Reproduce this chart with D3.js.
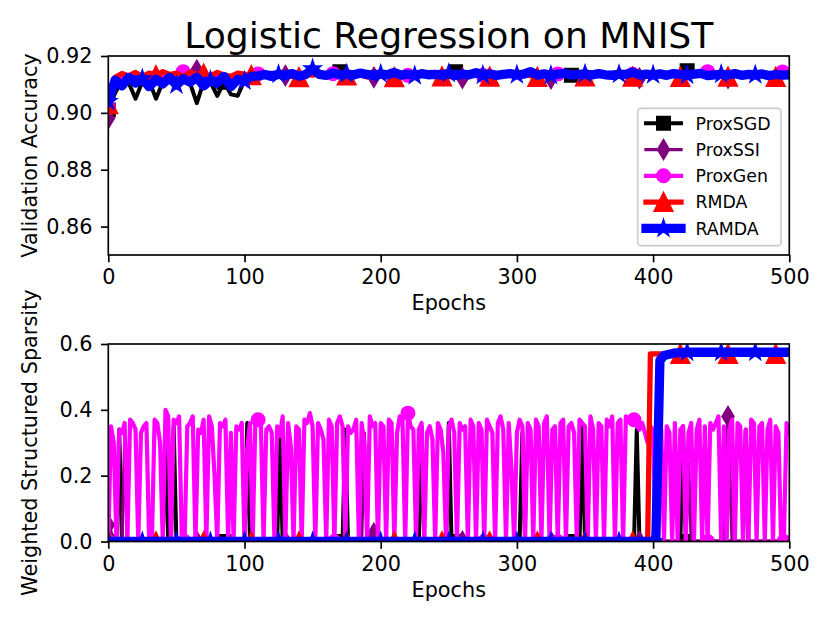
<!DOCTYPE html>
<html><head><meta charset="utf-8">
<script src="https://cdn.jsdelivr.net/npm/d3@7"></script>
<style>body{margin:0;background:#fff}svg{display:block}</style>
</head><body><svg id="c" width="830" height="623"></svg>
<script>
// ---------------- DATA ----------------
const epochTicks = [0, 100, 200, 300, 400, 500];
const accTicks = [0.86, 0.88, 0.90, 0.92];
const sparTicks = [0.0, 0.2, 0.4, 0.6];
const methods = ["ProxSGD", "ProxSSI", "ProxGen", "RMDA", "RAMDA"];

// validation accuracy, one value every 5 epochs (0..500)
const accStep = 5;
const accProxSGD = [
.901,.907,.9115,.9105,.905,.911,.9112,.905,.9108,.9115,
.911,.9118,.9105,.9034,.911,.9108,.906,.9108,.9065,.906,
.9115,.9128,.9133,.913,.9136,.9132,.9135,.9131,.9137,.9133,
.9135,.9138,.9132,.9136,.9145,.9134,.9137,.9133,.9135,.9131,
.9136,.9134,.9137,.9132,.9135,.9138,.9133,.9136,.9134,.9137,
.9132,.9145,.9135,.9133,.9137,.9134,.9136,.9132,.9138,.9135,
.9134,.9136,.9132,.9137,.9133,.9135,.9138,.9134,.9132,.9136,
.9135,.9133,.9137,.9131,.9136,.9134,.9138,.9132,.9135,.9133,
.9137,.9134,.9132,.9136,.9135,.9148,.9133,.9137,.9134,.9136,
.9132,.9135,.9137,.9133,.9136,.9134,.9132,.9137,.9135,.9133,
.9136];
const accProxSSI = [
.898,.911,.9122,.9115,.9128,.9118,.9125,.9112,.913,.912,
.9126,.9118,.913,.915,.9125,.912,.9128,.9118,.9122,.9126,
.9125,.913,.9135,.9132,.9136,.9133,.9131,.9136,.9134,.9137,
.9133,.9136,.9134,.9132,.9137,.9135,.9133,.9136,.9134,.9125,
.9136,.9133,.9137,.9134,.9132,.9136,.9135,.9133,.9137,.9134,
.9136,.9132,.9122,.9135,.9137,.9133,.9136,.9134,.9132,.9137,
.9135,.9133,.9136,.9132,.9137,.9121,.9134,.9135,.9133,.9136,
.9134,.9137,.9132,.9136,.9135,.9133,.9137,.9134,.9122,.9136,
.9133,.9136,.9134,.9137,.9132,.9135,.9133,.9136,.9134,.9137,
.9135,.9122,.9136,.9133,.9137,.9134,.9132,.9136,.9135,.9133,
.9134];
const accProxGen = [
.902,.9115,.9125,.9118,.913,.912,.9128,.9115,.9132,.912,
.9135,.9145,.913,.9122,.9128,.9118,.9132,.9125,.912,.913,
.9128,.9133,.9137,.9132,.9135,.9138,.913,.9136,.9133,.9138,
.9134,.9137,.9131,.9138,.9135,.9133,.9137,.9132,.9136,.9134,
.9138,.9133,.9135,.9137,.9132,.9136,.9134,.9138,.9131,.9135,
.9137,.9133,.9136,.9134,.9138,.9132,.9135,.9137,.9133,.9136,
.9134,.9138,.9132,.9136,.9135,.9133,.9137,.9134,.9136,.9132,
.9136,.9134,.9137,.9133,.9135,.9138,.9132,.9136,.9134,.9137,
.9133,.9136,.9134,.9138,.9132,.9135,.9137,.9133,.9145,.9135,
.9137,.9134,.9136,.9132,.9138,.9135,.9133,.9137,.9134,.9144,
.9135];
const accRMDA = [
.903,.9125,.9138,.913,.9142,.9128,.914,.9132,.9145,.9135,
.914,.9128,.9143,.9135,.9138,.913,.9142,.9133,.9128,.914,
.9136,.9132,.913,.9138,.9128,.9136,.9134,.913,.9125,.9137,
.9133,.9138,.913,.9136,.9134,.9131,.9138,.9133,.9126,.9135,
.9132,.9137,.9125,.9134,.9138,.9131,.9135,.9133,.9138,.9128,
.9136,.9133,.9137,.9131,.9135,.9128,.9127,.9134,.9132,.9136,
.9133,.9137,.9131,.9126,.9135,.9133,.9138,.9132,.9134,.9137,
.9128,.9135,.9133,.9137,.9131,.9135,.9133,.9127,.9136,.9134,
.9138,.9131,.9135,.9133,.9126,.9136,.9133,.9137,.9132,.9135,
.9133,.9127,.9136,.9134,.9131,.9137,.9133,.9135,.9126,.9134,
.9136];
const accRAMDA = [
.904,.9115,.9095,.9125,.9105,.912,.9092,.9118,.9102,.9125,
.9098,.912,.9108,.9125,.9095,.9115,.9105,.9128,.9092,.9118,
.9112,.9128,.913,.9135,.9128,.9136,.9132,.9138,.9129,.9135,
.9155,.9135,.9132,.914,.9134,.9137,.9133,.914,.9135,.9132,
.9137,.9134,.9142,.9133,.9136,.9131,.9138,.9134,.9135,.9133,
.9139,.9132,.9136,.9134,.9141,.9133,.9137,.9132,.9135,.9138,
.9134,.9136,.9145,.9133,.9137,.9132,.9136,.9139,.9133,.9135,
.9137,.9133,.9138,.9134,.9132,.9136,.9135,.9143,.9133,.9136,
.9134,.9137,.9132,.9138,.9135,.9133,.9136,.9139,.9131,.9134,
.9136,.9133,.9138,.9132,.9135,.9134,.9137,.9131,.9135,.9133,
.9134];

// weighted structured sparsity
const sparStep = 2; // ProxGen: one value every 2 epochs (0..500)
const sparProxGen = [
0,.35,.30,0,.34,.33,.36,0,.37,.36,
.34,0,.33,.35,.36,0,0,.37,.36,.30,
0,.40,.38,0,.37,.36,.38,0,0,.35,
.36,.38,0,.34,.33,.37,0,.38,.35,.20,
0,.36,.35,.37,0,.33,0,.35,.34,.36,
0,.28,.36,0,.37,.37,.36,0,.34,.35,
.33,0,.35,.32,.38,0,.36,.29,0,.35,
.34,0,.37,.36,.39,.35,0,.36,.34,.31,
0,.37,.35,0,.36,.38,.35,0,.35,.33,
.34,.37,0,.36,.30,0,.38,.35,.36,0,
.36,.35,0,.37,.36,0,.33,.38,.37,0,
.39,.35,.34,0,.34,.36,0,.33,.35,.31,
0,.36,.34,.27,0,.35,.37,.33,0,.36,
.34,.35,0,.37,.35,0,.36,.34,0,.37,
.35,.33,0,.36,.38,.34,0,.36,.22,0,
.33,.37,.35,0,.36,.34,0,.37,.35,0,
.36,.38,0,.34,.35,0,.36,.37,0,.35,
.36,.33,0,.37,.36,.35,0,.38,.34,0,
.36,.35,0,.37,.35,.38,0,.36,.37,0,
.38,.37,.36,.37,.35,.34,.36,.33,.30,.35,
.34,0,.36,.34,0,.35,.33,0,.36,0,
.34,.35,0,.33,.36,0,.34,.37,0,.35,
0,.36,.34,.36,.38,0,.35,0,.34,.37,
0,.36,.35,0,.34,0,.37,.36,0,.35,
.36,0,.34,.37,0,.35,.33,0,0,.36,
.33];
const sparProxSGDEpochs = [0,6,8,10,40,42,44,46,48,50,85,100,102,104,124,126,128,170,172,174,176,228,230,232,248,250,252,255,302,304,306,340,346,348,350,386,388,390,420,422,424,425,466,468,470,500];
const sparProxSGD =       [0,0,.34,0,0,.36,0,0,.35,0,0,0,.36,0,0,.33,0,0,0,.34,0,0,.35,0,0,.36,0,0,0,.33,0,0,0,.35,0,0,.34,0,0,.35,0,0,0,.34,0,0];
const sparProxSSIEpochs = [0,2,4,10,12,14,65,130,186,188,190,195,198,260,325,390,424,426,428,452,455,458,500];
const sparProxSSI =       [.05,.03,0,0,.30,0,0,0,0,.33,0,.025,0,0,0,0,0,.24,0,0,.38,0,0];
const sparRMDAEpochs = [0,35,70,105,140,175,210,245,280,315,350,385,396,398,420,455,490,500];
const sparRMDA =       [0,0,0,0,0,0,0,0,0,0,0,0,0,.57,.57,.57,.57,.57];
const sparRAMDAEpochs = [0,25,50,75,100,125,150,175,200,225,250,275,300,325,350,375,400,402,405,408,415,425,450,475,500];
const sparRAMDA =       [0,0,0,0,0,0,0,0,0,0,0,0,0,0,0,0,0,0,.55,.565,.572,.575,.575,.575,.575];

// ---------------- STYLE ----------------
const style = {
  ProxSGD: {color:"#000000", lw:4.0, marker:"s", size:13, every:85},
  ProxSSI: {color:"#800080", lw:3.3, marker:"d", size:19, every:65},
  ProxGen: {color:"#ff00ff", lw:4.2, marker:"o", size:13, every:55},
  RMDA:    {color:"#ff0000", lw:5.3, marker:"^", size:18, every:35},
  RAMDA:   {color:"#0000ff", lw:9.3, marker:"*", size:16, every:25}
};
const FONT = "DejaVu Sans";

function uniform(vals, step){ return vals.map((v,i)=>[i*step, v]); }
function paired(eps, vals){ return eps.map((e,i)=>[e, vals[i]]); }

const accSeries = {
  ProxSGD: uniform(accProxSGD, accStep), ProxSSI: uniform(accProxSSI, accStep),
  ProxGen: uniform(accProxGen, accStep), RMDA: uniform(accRMDA, accStep), RAMDA: uniform(accRAMDA, accStep)
};
const sparSeries = {
  ProxSGD: paired(sparProxSGDEpochs, sparProxSGD), ProxSSI: paired(sparProxSSIEpochs, sparProxSSI),
  ProxGen: uniform(sparProxGen, sparStep), RMDA: paired(sparRMDAEpochs, sparRMDA), RAMDA: paired(sparRAMDAEpochs, sparRAMDA)
};

function markerPath(t, s){
  const h = s/2;
  if (t==="s") return `M${-h},${-h}H${h}V${h}H${-h}Z`;
  if (t==="d") return `M0,${-h}L${0.3*s},0L0,${h}L${-0.3*s},0Z`;
  if (t==="o") return `M${h},0A${h},${h} 0 1,1 ${-h},0A${h},${h} 0 1,1 ${h},0Z`;
  if (t==="^") return `M0,${-h}L${h},${h}L${-h},${h}Z`;
  if (t==="*") {
    const r = h*0.381966; let p = "";
    for (let i=0;i<10;i++){ const a=-Math.PI/2+i*Math.PI/5, rr=i%2?r:h;
      p += (i?"L":"M")+(rr*Math.cos(a)).toFixed(2)+","+(rr*Math.sin(a)).toFixed(2); }
    return p+"Z";
  }
}
function markerPoints(pts, every){
  const out=[];
  for (let m=0; m<500; m+=every){
    let best=pts[0], bd=Infinity;
    pts.forEach(p=>{const d=Math.abs(p[0]-m); if(d<=bd){bd=d;best=p;}});
    out.push(best);
  }
  return out;
}

// ---------------- DRAW ----------------
const svg = d3.select("#c");
svg.append("rect").attr("width",830).attr("height",623).attr("fill","#fff");
const X0 = 108.3, X1 = 789.3;

function panel(id, top, bottom, domain, ticks, fmt, series, ylabel){
  const x = d3.scaleLinear().domain([0,500]).range([X0,X1]);
  const y = d3.scaleLinear().domain(domain).range([bottom, top]);
  svg.append("clipPath").attr("id",id).append("rect")
    .attr("x",X0).attr("y",top).attr("width",X1-X0).attr("height",bottom-top);
  const g = svg.append("g").attr("clip-path",`url(#${id})`);
  const line = d3.line().x(d=>x(d[0])).y(d=>y(d[1]));
  methods.forEach(m=>{
    const st = style[m], pts = series[m];
    g.append("path").attr("d",line(pts)).attr("fill","none").attr("stroke",st.color)
      .attr("stroke-width",st.lw).attr("stroke-linejoin","round").attr("stroke-linecap","square");
    g.selectAll(null).data(markerPoints(pts, st.every)).enter().append("path")
      .attr("d",markerPath(st.marker, st.size))
      .attr("transform",d=>`translate(${x(d[0])},${y(d[1])})`)
      .attr("fill",st.color).attr("stroke",st.color).attr("stroke-width",2).attr("stroke-linejoin","miter");
  });
  // axes
  const xa = svg.append("g").attr("transform",`translate(0,${bottom})`)
    .call(d3.axisBottom(x).tickValues(epochTicks).tickSize(7.3).tickPadding(7.3).tickSizeOuter(0));
  const ya = svg.append("g").attr("transform",`translate(${X0},0)`)
    .call(d3.axisLeft(y).tickValues(ticks).tickFormat(d3.format(fmt)).tickSize(7.3).tickPadding(8.5).tickSizeOuter(0));
  [xa,ya].forEach(a=>{
    a.select(".domain").remove();
    a.selectAll("line").attr("stroke","#000").attr("stroke-width",1.67);
    a.selectAll("text").attr("font-family",FONT).attr("font-size",20.8).attr("fill","#000");
  });
  svg.append("rect").attr("x",X0).attr("y",top).attr("width",X1-X0).attr("height",bottom-top)
    .attr("fill","none").attr("stroke","#000").attr("stroke-width",1.67);
  svg.append("text").attr("x",(X0+X1)/2).attr("y",bottom+55).attr("text-anchor","middle")
    .attr("font-family",FONT).attr("font-size",20.8).text("Epochs");
  svg.append("text").attr("transform",`translate(36.7,${(top+bottom)/2}) rotate(-90)`)
    .attr("text-anchor","middle").attr("font-family",FONT).attr("font-size",20.8).text(ylabel);
}

panel("clipTop", 56, 255, [0.85,0.92], accTicks, ".2f", accSeries, "Validation Accuracy");
panel("clipBot", 344, 541.5, [0,0.6], sparTicks, ".1f", sparSeries, "Weighted Structured Sparsity");

svg.append("text").attr("x",(X0+X1)/2).attr("y",47.5).attr("text-anchor","middle")
  .attr("font-family",FONT).attr("font-size",36.2).text("Logistic Regression on MNIST");

// legend
const lg = svg.append("g");
lg.append("rect").attr("x",637.7).attr("y",108.3).attr("width",143.3).attr("height",137.4)
  .attr("rx",3.5).attr("fill","#fff").attr("fill-opacity",0.8).attr("stroke","#cccccc").attr("stroke-width",1.67);
methods.forEach((m,i)=>{
  const st = style[m], cy = 123.3 + i*26.25;
  lg.append("line").attr("x1",646).attr("x2",681).attr("y1",cy).attr("y2",cy)
    .attr("stroke",st.color).attr("stroke-width",st.lw).attr("stroke-linecap","square");
  lg.append("path").attr("d",markerPath(st.marker, st.size)).attr("transform",`translate(663.5,${cy})`)
    .attr("fill",st.color).attr("stroke",st.color).attr("stroke-width",2);
  lg.append("text").attr("x",695.5).attr("y",cy+6.3).attr("font-family",FONT).attr("font-size",17.36).text(m);
});
</script></body></html>
